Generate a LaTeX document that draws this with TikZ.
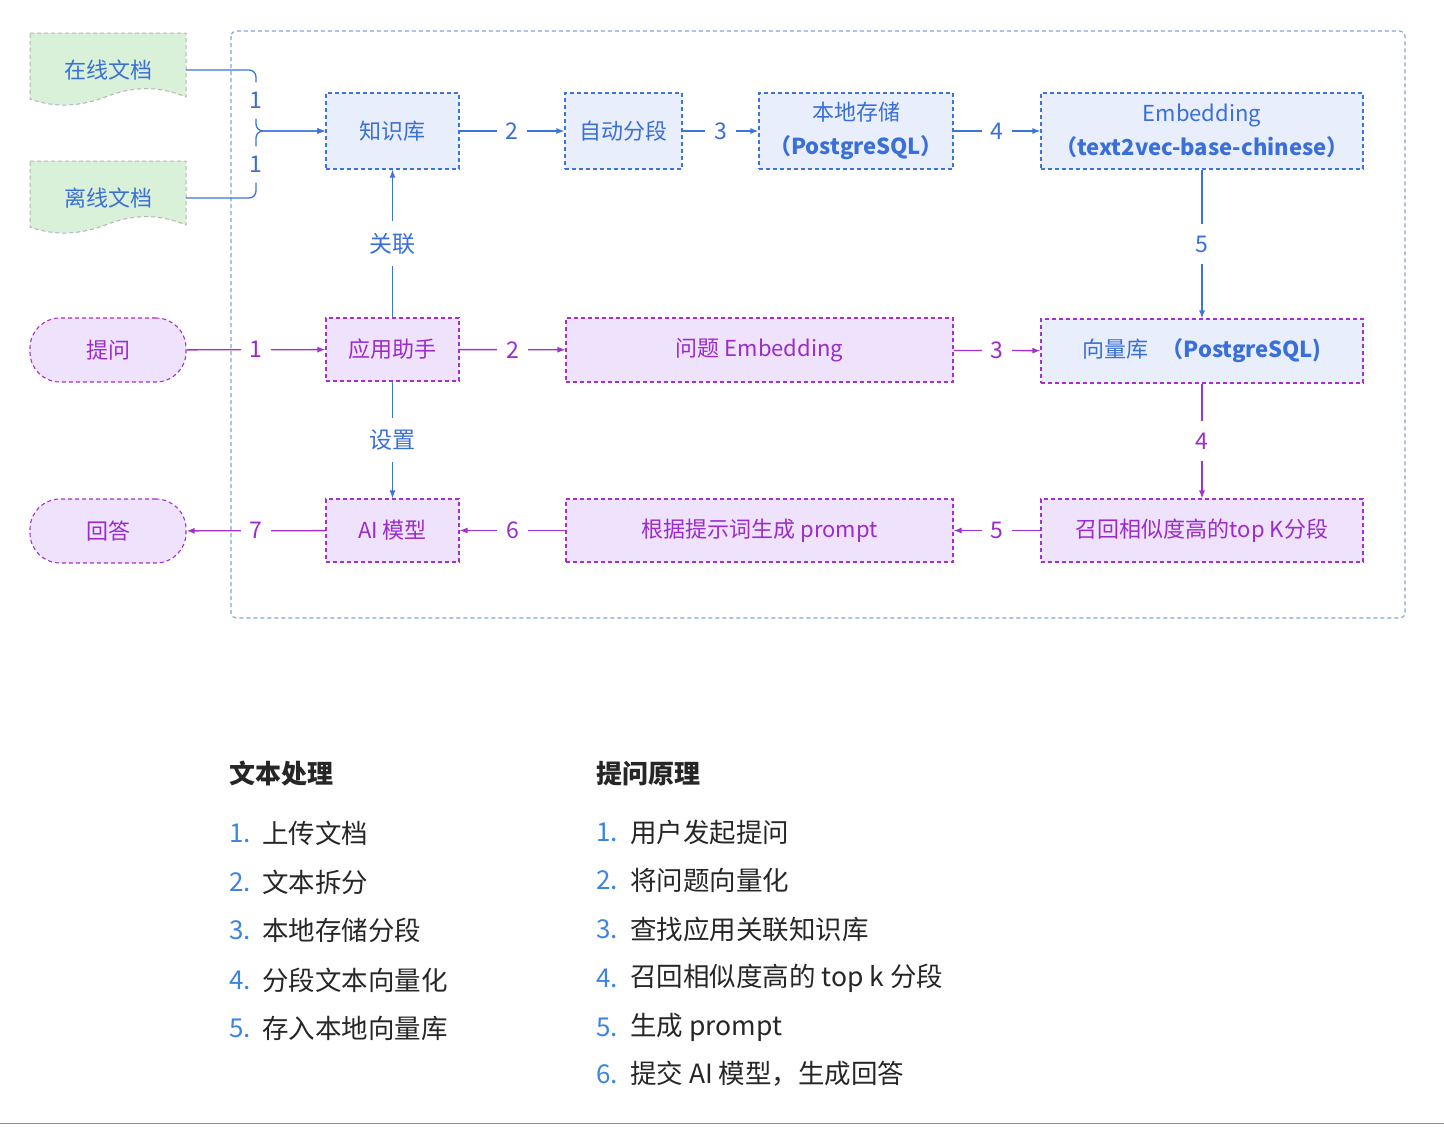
\documentclass[tikz,border=0pt]{standalone}
\usepackage{fontspec}
\setmainfont{Noto Sans CJK SC}
\usetikzlibrary{arrows.meta,backgrounds}
\definecolor{bl}{HTML}{3C74D9}
\definecolor{bltext}{HTML}{3A6FD8}
\definecolor{pu}{HTML}{A331CF}
\definecolor{putext}{HTML}{9B2CCB}
\definecolor{blfill}{HTML}{E9EEFC}
\definecolor{pufill}{HTML}{EFE2FC}
\definecolor{grfill}{HTML}{D9F1D9}
\definecolor{grline}{HTML}{B4B4B4}
\definecolor{frameblue}{HTML}{7FA2DE}
\definecolor{numblue}{HTML}{3D84E0}
\begin{document}
\begin{tikzpicture}[x=1pt,y=-1pt,
  every node/.style={font=\fontsize{22}{30}\selectfont, inner sep=0pt},
  dsh/.style={dash pattern=on 4pt off 3pt},
  boxb/.style={draw=bl, fill=blfill, dsh, line width=1.1pt, text=bltext, align=center},
  boxp/.style={draw=pu, fill=pufill, dsh, line width=1.1pt, text=putext, align=center},
  boxv/.style={draw=pu, fill=blfill, dsh, line width=1.1pt, text=bltext, align=center},
  pill/.style={draw=pu, fill=pufill, dsh, line width=1.1pt, text=putext, rounded corners=30pt, minimum width=156pt, minimum height=64pt},
  docn/.style={text=bltext, minimum width=156pt, minimum height=74pt},
  conb/.style={draw=bl, line width=1.3pt, -{Latex[length=8pt,width=6pt]}},
  conp/.style={draw=pu, line width=1.3pt, -{Latex[length=8pt,width=6pt]}},
  lblb/.style={fill=white, inner xsep=9pt, inner ysep=12pt, text=bltext, font=\fontsize{23}{30}\selectfont},
  lblp/.style={fill=white, inner xsep=9pt, inner ysep=12pt, text=putext, font=\fontsize{23}{30}\selectfont},
  head/.style={anchor=west, font=\fontsize{26}{30}\selectfont\bfseries, text=black!85},
  num/.style={anchor=west, font=\fontsize{26}{30}\selectfont, text=numblue},
  item/.style={anchor=west, font=\fontsize{26.5}{30}\selectfont, text=black!85}
]
\useasboundingbox (0,0) rectangle (1444,1128);
% container
\draw[frameblue, line width=1.1pt, dsh, rounded corners=5pt] (231,31) rectangle (1405,618);
% document shapes
\fill[grfill] (30,33) -- (186,33) -- (186,97) .. controls (160,86) and (135,86) .. (108,96) .. controls (80,107) and (55,108) .. (30,99) -- cycle;
\draw[grline, dsh, line width=1pt] (30,33) -- (186,33) -- (186,97) .. controls (160,86) and (135,86) .. (108,96) .. controls (80,107) and (55,108) .. (30,99) -- cycle;
\fill[grfill] (30,161) -- (186,161) -- (186,225) .. controls (160,214) and (135,214) .. (108,224) .. controls (80,235) and (55,236) .. (30,227) -- cycle;
\draw[grline, dsh, line width=1pt] (30,161) -- (186,161) -- (186,225) .. controls (160,214) and (135,214) .. (108,224) .. controls (80,235) and (55,236) .. (30,227) -- cycle;
\node[docn] (on) at (108,70) {在线文档};
\node[docn] (off) at (108,198) {离线文档};
% top row
\node[boxb, minimum width=133pt, minimum height=76pt] (kb) at (392.5,131) {知识库};
\node[boxb, minimum width=117pt, minimum height=76pt] (seg) at (623.5,131) {自动分段};
\node[boxb, minimum width=194pt, minimum height=76pt, font=\fontsize{22}{34}\selectfont] (store) at (856,131) {本地存储\\\textbf{（PostgreSQL）}};
\node[boxb, minimum width=322pt, minimum height=76pt, font=\fontsize{22}{34}\selectfont] (emb) at (1202,131) {Embedding\\\textbf{（text2vec-base-chinese）}};
% middle row
\node[pill] (ask) at (108,350) {提问};
\node[boxp, minimum width=133pt, minimum height=63pt] (asst) at (392.5,349.5) {应用助手};
\node[boxp, minimum width=387pt, minimum height=64pt] (qemb) at (759.5,350) {问题 Embedding};
\node[boxv, minimum width=322pt, minimum height=64pt] (vec) at (1202,351) {向量库\hspace{0.6em}\textbf{（PostgreSQL)}};
% bottom row
\node[pill] (ans) at (108,531) {回答};
\node[boxp, minimum width=133pt, minimum height=63pt] (ai) at (392.5,530.5) {AI 模型};
\node[boxp, minimum width=387pt, minimum height=63pt] (prm) at (759.5,530.5) {根据提示词生成 prompt};
\node[boxp, minimum width=322pt, minimum height=63pt] (rec) at (1202,530.5) {召回相似度高的top K分段};
% connectors
\draw[conb, rounded corners=7pt] (on.east) -- (256,70) -- node[lblb, inner ysep=10pt]{1} (256,131) -- (kb.west);
\draw[conb, rounded corners=7pt] (off.east) -- (256,198) -- node[lblb, inner ysep=10pt]{1} (256,131) -- (kb.west);
\draw[conb] (kb) -- node[lblb]{2} (seg);
\draw[conb] (seg) -- node[lblb]{3} (store);
\draw[conb] (store) -- node[lblb]{4} (emb);
\draw[conb] (emb) -- node[lblb]{5} (vec);
\draw[conb] (asst) -- node[lblb]{关联} (kb);
\draw[conb] (asst) -- node[lblb]{设置} (ai);
\draw[conp] (ask) -- node[lblp]{1} (asst);
\draw[conp] (asst) -- node[lblp]{2} (qemb);
\draw[conp] (qemb) -- node[lblp]{3} (vec);
\draw[conp] (vec) -- node[lblp]{4} (rec);
\draw[conp] (rec) -- node[lblp]{5} (prm);
\draw[conp] (prm) -- node[lblp]{6} (ai);
\draw[conp] (ai) -- node[lblp]{7} (ans);
% text lists
\node[head] (h1) at (229,774) {文本处理};
\node[head] (h2) at (596,774) {提问原理};
\node[num] (a1) at (229,833) {1.};  \node[item] (b1) at (262,833) {上传文档};
\node[num] (a2) at (229,882) {2.};  \node[item] (b2) at (262,882) {文本拆分};
\node[num] (a3) at (229,930) {3.};  \node[item] (b3) at (262,930) {本地存储分段};
\node[num] (a4) at (229,980) {4.};  \node[item] (b4) at (262,980) {分段文本向量化};
\node[num] (a5) at (229,1028) {5.}; \node[item] (b5) at (262,1028) {存入本地向量库};
\node[num] (c1) at (596,832) {1.};  \node[item] (d1) at (630,832) {用户发起提问};
\node[num] (c2) at (596,880) {2.};  \node[item] (d2) at (630,880) {将问题向量化};
\node[num] (c3) at (596,929) {3.};  \node[item] (d3) at (630,929) {查找应用关联知识库};
\node[num] (c4) at (596,978) {4.};  \node[item] (d4) at (630,978) {召回相似度高的 top k 分段};
\node[num] (c5) at (596,1027) {5.}; \node[item] (d5) at (630,1027) {生成 prompt};
\node[num] (c6) at (596,1074) {6.}; \node[item] (d6) at (630,1074) {提交 AI 模型，生成回答};
% bottom edge line
\draw[black!45, line width=1.5pt] (0,1123.5) -- (1444,1123.5);
\end{tikzpicture}
\end{document}
